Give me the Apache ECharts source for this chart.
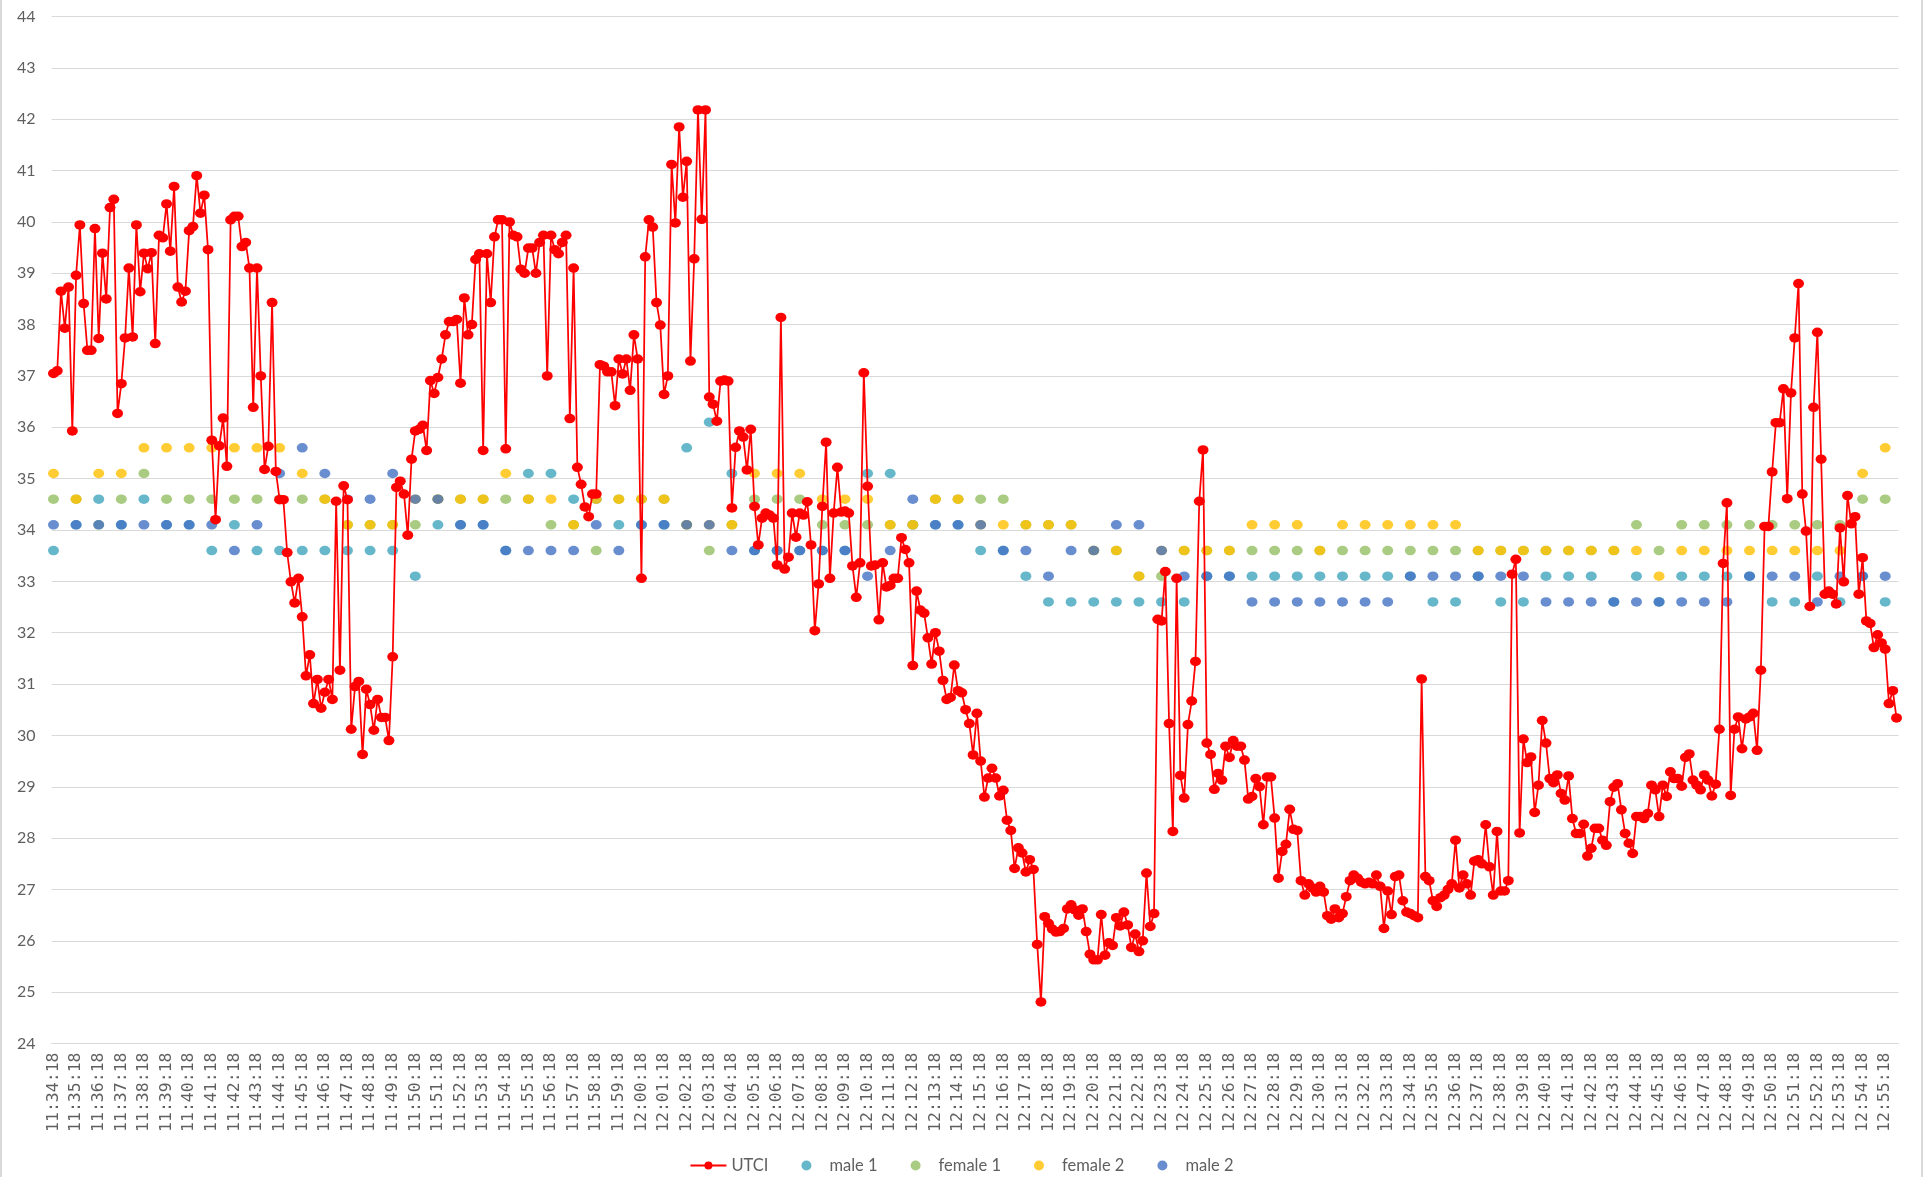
<!DOCTYPE html>
<html>
<head>
<meta charset="utf-8">
<title>UTCI and thermal sensation votes</title>
<script src="https://cdn.jsdelivr.net/npm/echarts@6/dist/echarts.min.js"></script>
<style>
  html, body { margin: 0; padding: 0; background: #ffffff; }
  #chart { width: 1923px; height: 1177px; box-sizing: border-box; border-left: 2px solid #d9d9d9; border-right: 2px solid #d9d9d9; }
</style>
</head>
<body>
<div id="chart"></div>
<script>
// Sampling: one UTCI reading every 10 s starting at 11:34:18
const startTime = '11:34:18';
const stepSeconds = 10;

// UTCI readings (°C), one per 10-second sample
const utci = [
  37.05, 37.1, 38.65, 37.93, 38.73, 35.93, 38.96, 39.94, 38.41, 37.5,
  37.5, 39.87, 37.73, 39.39, 38.5, 40.28, 40.44, 36.27, 36.85, 37.74,
  39.1, 37.76, 39.94, 38.64, 39.39, 39.09, 39.4, 37.63, 39.74, 39.69,
  40.35, 39.43, 40.69, 38.73, 38.44, 38.65, 39.83, 39.91, 40.9, 40.17,
  40.52, 39.46, 35.75, 34.2, 35.64, 36.18, 35.24, 40.04, 40.11, 40.11,
  39.52, 39.6, 39.1, 36.39, 39.1, 37.0, 35.18, 35.63, 38.43, 35.14,
  34.59, 34.59, 33.56, 32.99, 32.58, 33.06, 32.31, 31.16, 31.57, 30.62,
  31.09, 30.53, 30.84, 31.09, 30.7, 34.56, 31.27, 34.86, 34.59, 30.12,
  30.95, 31.05, 29.63, 30.9, 30.6, 30.1, 30.7, 30.35, 30.35, 29.9,
  31.53, 34.83, 34.95, 34.7, 33.9, 35.38, 35.93, 35.96, 36.04, 35.55,
  36.91, 36.66, 36.97, 37.33, 37.8, 38.06, 38.06, 38.1, 36.86, 38.52,
  37.8, 38.0, 39.27, 39.38, 35.55, 39.38, 38.43, 39.71, 40.04, 40.04,
  35.58, 40.0, 39.74, 39.71, 39.08, 39.0, 39.49, 39.49, 39.0, 39.6,
  39.74, 37.0, 39.74, 39.46, 39.38, 39.6, 39.74, 36.17, 39.1, 35.22,
  34.89, 34.45, 34.26, 34.7, 34.7, 37.22, 37.19, 37.08, 37.08, 36.42,
  37.33, 37.04, 37.33, 36.72, 37.8, 37.33, 33.06, 39.32, 40.04, 39.9,
  38.43, 37.99, 36.64, 37.0, 41.12, 39.98, 41.85, 40.48, 41.18, 37.29,
  39.28, 42.18, 40.05, 42.18, 36.59, 36.45, 36.12, 36.9, 36.92, 36.9,
  34.43, 35.61, 35.93, 35.81, 35.17, 35.96, 34.46, 33.71, 34.23, 34.33,
  34.29, 34.23, 33.32, 38.14, 33.24, 33.47, 34.33, 33.86, 34.33, 34.29,
  34.55, 33.71, 32.04, 32.95, 34.46, 35.71, 33.06, 34.33, 35.22, 34.35,
  34.37, 34.33, 33.3, 32.69, 33.36, 37.06, 34.85, 33.3, 33.32, 32.25,
  33.36, 32.89, 32.92, 33.06, 33.06, 33.85, 33.62, 33.36, 31.36, 32.81,
  32.44, 32.38, 31.9, 31.39, 32.0, 31.64, 31.07, 30.7, 30.74, 31.37,
  30.87, 30.83, 30.5, 30.23, 29.62, 30.43, 29.5, 28.8, 29.17, 29.36,
  29.17, 28.82, 28.93, 28.35, 28.15, 27.41, 27.81, 27.71, 27.34, 27.58,
  27.39, 25.93, 24.81, 26.47, 26.34, 26.23, 26.17, 26.18, 26.24, 26.62,
  26.7, 26.6, 26.5, 26.62, 26.18, 25.74, 25.63, 25.63, 26.51, 25.72,
  25.96, 25.91, 26.45, 26.29, 26.56, 26.31, 25.87, 26.13, 25.79, 26.0,
  27.32, 26.28, 26.53, 32.26, 32.23, 33.19, 30.23, 28.13, 33.06, 29.22,
  28.78, 30.21, 30.67, 31.44, 34.56, 35.56, 29.85, 29.63, 28.95, 29.26,
  29.13, 29.79, 29.57, 29.9, 29.79, 29.79, 29.52, 28.76, 28.81, 29.16,
  29.0, 28.26, 29.19, 29.19, 28.39, 27.22, 27.74, 27.88, 28.56, 28.17,
  28.15, 27.17, 26.89, 27.11, 27.03, 26.95, 27.06, 26.95, 26.49, 26.42,
  26.62, 26.45, 26.53, 26.86, 27.17, 27.28, 27.22, 27.14, 27.11, 27.14,
  27.11, 27.28, 27.06, 26.24, 26.97, 26.51, 27.25, 27.28, 26.78, 26.56,
  26.53, 26.49, 26.45, 31.1, 27.25, 27.17, 26.78, 26.67, 26.84, 26.89,
  27.0, 27.11, 27.96, 27.03, 27.28, 27.11, 26.89, 27.55, 27.58, 27.5,
  28.26, 27.44, 26.89, 28.13, 26.97, 26.97, 27.17, 33.14, 33.43, 28.1,
  29.93, 29.47, 29.58, 28.5, 29.03, 30.29, 29.85, 29.16, 29.08, 29.23,
  28.87, 28.74, 29.21, 28.38, 28.09, 28.09, 28.27, 27.65, 27.8, 28.19,
  28.19, 27.96, 27.86, 28.71, 28.99, 29.06, 28.55, 28.09, 27.9, 27.7,
  28.42, 28.42, 28.38, 28.48, 29.03, 28.94, 28.42, 29.03, 28.81, 29.29,
  29.16, 29.16, 29.01, 29.57, 29.64, 29.13, 29.03, 28.94, 29.23, 29.13,
  28.82, 29.05, 30.12, 33.35, 34.53, 28.83, 30.12, 30.36, 29.74, 30.32,
  30.36, 30.43, 29.71, 31.27, 34.07, 34.07, 35.13, 36.09, 36.09, 36.75,
  34.61, 36.67, 37.74, 38.8, 34.7, 33.98, 32.51, 36.39, 37.85, 35.38,
  32.75, 32.81, 32.75, 32.56, 34.04, 32.99, 34.67, 34.12, 34.26, 32.75,
  33.46, 32.23, 32.18, 31.71, 31.96, 31.8, 31.68, 30.62, 30.87, 30.34
];

// Thermal votes, one per minute (at hh:mm:18)
const male1 = [
  33.6, 34.1, 34.6, 34.1, 34.6, 34.1, 34.1, 33.6, 34.1, 33.6,
  33.6, 33.6, 33.6, 33.6, 33.6, 33.6, 33.1, 34.1, 34.1, 34.1,
  33.6, 35.1, 35.1, 34.6, 34.6, 34.1, 34.1, 34.1, 35.6, 36.1,
  35.1, 33.6, 33.6, 33.6, 33.6, 33.6, 35.1, 35.1, 34.1, 34.1,
  34.1, 33.6, 33.6, 33.1, 32.6, 32.6, 32.6, 32.6, 32.6, 32.6,
  32.6, 33.1, 33.1, 33.1, 33.1, 33.1, 33.1, 33.1, 33.1, 33.1,
  33.1, 32.6, 32.6, 33.1, 32.6, 32.6, 33.1, 33.1, 33.1, 32.6,
  33.1, 32.6, 33.1, 33.1, 33.1, 33.1, 32.6, 32.6, 33.1, 32.6,
  33.1, 32.6
];
const female1 = [
  34.6, 34.6, 34.1, 34.6, 35.1, 34.6, 34.6, 34.6, 34.6, 34.6,
  34.6, 34.6, 34.6, 34.1, 34.1, 34.1, 34.1, 34.6, 34.6, 34.6,
  34.6, 34.6, 34.1, 34.1, 33.6, 34.6, 34.6, 34.6, 34.1, 33.6,
  34.1, 34.6, 34.6, 34.6, 34.1, 34.1, 34.1, 34.1, 34.1, 34.6,
  34.6, 34.6, 34.6, 34.1, 34.1, 34.1, 33.6, 33.6, 33.1, 33.1,
  33.6, 33.6, 33.6, 33.6, 33.6, 33.6, 33.6, 33.6, 33.6, 33.6,
  33.6, 33.6, 33.6, 33.6, 33.6, 33.6, 33.6, 33.6, 33.6, 33.6,
  34.1, 33.6, 34.1, 34.1, 34.1, 34.1, 34.1, 34.1, 34.1, 34.1,
  34.6, 34.6
];
const female2 = [
  35.1, 34.6, 35.1, 35.1, 35.6, 35.6, 35.6, 35.6, 35.6, 35.6,
  35.6, 35.1, 34.6, 34.1, 34.1, 34.1, 34.6, 34.6, 34.6, 34.6,
  35.1, 34.6, 34.6, 34.1, 34.6, 34.6, 34.6, 34.6, 34.1, 34.1,
  34.1, 35.1, 35.1, 35.1, 34.6, 34.6, 34.6, 34.1, 34.1, 34.6,
  34.6, 34.1, 34.1, 34.1, 34.1, 34.1, 33.6, 33.6, 33.1, 33.6,
  33.6, 33.6, 33.6, 34.1, 34.1, 34.1, 33.6, 34.1, 34.1, 34.1,
  34.1, 34.1, 34.1, 33.6, 33.6, 33.6, 33.6, 33.6, 33.6, 33.6,
  33.6, 33.1, 33.6, 33.6, 33.6, 33.6, 33.6, 33.6, 33.6, 33.6,
  35.1, 35.6
];
const male2 = [
  34.1, 34.1, 34.1, 34.1, 34.1, 34.1, 34.1, 34.1, 33.6, 34.1,
  35.1, 35.6, 35.1, 34.6, 34.6, 35.1, 34.6, 34.6, 34.1, 34.1,
  33.6, 33.6, 33.6, 33.6, 34.1, 33.6, 34.1, 34.1, 34.1, 34.1,
  33.6, 33.6, 33.6, 33.6, 33.6, 33.6, 33.1, 33.6, 34.6, 34.1,
  34.1, 34.1, 33.6, 33.6, 33.1, 33.6, 33.6, 34.1, 34.1, 33.6,
  33.1, 33.1, 33.1, 32.6, 32.6, 32.6, 32.6, 32.6, 32.6, 32.6,
  33.1, 33.1, 33.1, 33.1, 33.1, 33.1, 32.6, 32.6, 32.6, 32.6,
  32.6, 32.6, 32.6, 32.6, 32.6, 33.1, 33.1, 33.1, 32.6, 33.1,
  33.1, 33.1
];

// Category labels: clock time of every sample
function buildTimes(start, step, count) {
  const p = start.split(':').map(Number);
  const s = p[0] * 3600 + p[1] * 60 + p[2];
  const out = [];
  for (let i = 0; i < count; i++) {
    const t = s + i * step;
    const h = Math.floor(t / 3600), m = Math.floor((t % 3600) / 60), sec = t % 60;
    out.push(h + ':' + String(m).padStart(2, '0') + ':' + String(sec).padStart(2, '0'));
  }
  return out;
}
const times = buildTimes(startTime, stepSeconds, utci.length);
const samplesPerMinute = 60 / stepSeconds;

// Votes sit on the whole-minute samples
const atMinutes = arr => arr.map((v, k) => [k * samplesPerMinute, v]);

const labelColor = '#5f5f5f';
const fontFamily = 'Lato, "Liberation Sans", sans-serif';

const chart = echarts.init(document.getElementById('chart'), null, { renderer: 'canvas' });
const dotSize = [11, 9.5];

chart.setOption({
  animation: false,
  backgroundColor: '#ffffff',
  textStyle: { fontFamily: fontFamily },
  grid: { left: 49.6, right: 22.6, top: 16.5, bottom: 133.5, containLabel: false },
  xAxis: {
    type: 'category',
    data: times,
    boundaryGap: true,
    axisLine: { lineStyle: { color: '#d9d9d9', width: 1 } },
    axisTick: { show: false },
    axisLabel: {
      interval: samplesPerMinute - 1,
      rotate: 90,
      margin: 9,
      color: labelColor,
      fontSize: 16.5,
      fontFamily: '"DejaVu Sans Mono", monospace'
    },
    splitLine: { show: false }
  },
  yAxis: {
    type: 'value',
    min: 24,
    max: 44,
    interval: 1,
    axisLine: { show: false },
    axisTick: { show: false },
    axisLabel: { color: labelColor, fontSize: 16, margin: 16, fontFamily: fontFamily },
    splitLine: { lineStyle: { color: '#d9d9d9', width: 1 } }
  },
  legend: {
    top: 1152,
    left: 'center',
    itemWidth: 36,
    itemHeight: 10,
    itemGap: 33,
    textStyle: { color: labelColor, fontSize: 16.5, fontFamily: fontFamily },
    data: ['UTCI', 'male 1', 'female 1', 'female 2', 'male 2']
  },
  series: [
    {
      name: 'UTCI',
      type: 'line',
      data: utci,
      symbol: 'circle',
      symbolSize: dotSize,
      showAllSymbol: true,
      lineStyle: { color: '#ff0000', width: 1.75 },
      itemStyle: { color: '#ff0000' }
    },
    {
      name: 'male 1',
      type: 'scatter',
      data: atMinutes(male1),
      symbol: 'circle',
      symbolSize: dotSize,
      itemStyle: { color: '#41a5be' }
    },
    {
      name: 'female 1',
      type: 'scatter',
      data: atMinutes(female1),
      symbol: 'circle',
      symbolSize: dotSize,
      itemStyle: { color: '#93be63' }
    },
    {
      name: 'female 2',
      type: 'scatter',
      data: atMinutes(female2),
      symbol: 'circle',
      symbolSize: dotSize,
      itemStyle: { color: '#ffc000' }
    },
    {
      name: 'male 2',
      type: 'scatter',
      data: atMinutes(male2),
      symbol: 'circle',
      symbolSize: dotSize,
      itemStyle: { color: '#4472c4' }
    }
  ]
});
</script>
</body>
</html>
